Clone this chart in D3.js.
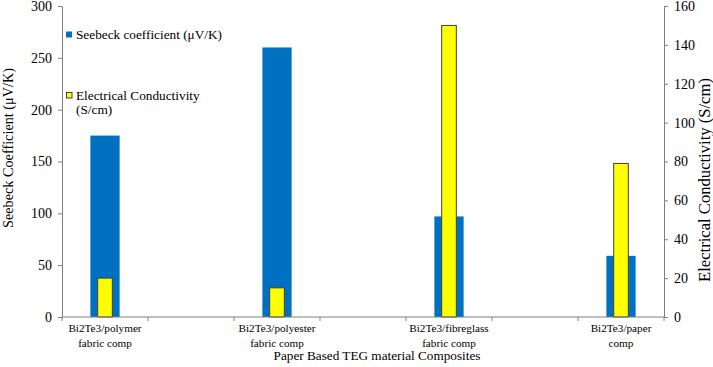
<!DOCTYPE html>
<html><head><meta charset="utf-8">
<script src="https://cdn.jsdelivr.net/npm/d3@7"></script>
<style>body{margin:0;background:#fff}svg{display:block}</style>
</head><body><svg id="c" width="713" height="367" font-family="'Liberation Serif', 'Times New Roman', serif"></svg>
<script>
const categories = ["Bi2Te3/polymer\nfabric comp", "", "Bi2Te3/polyester\nfabric comp", "", "Bi2Te3/fibreglass\nfabric comp", "", "Bi2Te3/paper\ncomp"];
const seebeck = [175, null, 260, null, 97, null, 59];
const conductivity = [20, null, 15, null, 150, null, 79];
const leftTicks = [0, 50, 100, 150, 200, 250, 300];
const rightTicks = [0, 20, 40, 60, 80, 100, 120, 140, 160];

const FF = "'Liberation Serif', 'Times New Roman', serif";
const svg = d3.select("#c");
const L = 62, R = 664, T = 6, B = 317;
const x = d3.scaleBand().domain(d3.range(categories.length)).range([L, R]).padding(0);
const yL = d3.scaleLinear().domain([0, 300]).range([B, T]);
const yR = d3.scaleLinear().domain([0, 160]).range([B, T]);
const blueW = x.bandwidth() * 0.34, yelW = x.bandwidth() * 0.17;

svg.append("g").selectAll("rect").data(seebeck.map((v,i)=>({v,i})).filter(d=>d.v!=null)).join("rect")
  .attr("x", d => x(d.i) + x.bandwidth()/2 - blueW/2).attr("width", blueW)
  .attr("y", d => yL(d.v)).attr("height", d => B - yL(d.v))
  .attr("fill", "#0070C0");
svg.append("g").selectAll("rect").data(conductivity.map((v,i)=>({v,i})).filter(d=>d.v!=null)).join("rect")
  .attr("x", d => x(d.i) + x.bandwidth()/2 - yelW/2).attr("width", yelW)
  .attr("y", d => yR(d.v)).attr("height", d => B - yR(d.v))
  .attr("fill", "#FFFF00").attr("stroke", "#404040").attr("stroke-width", 1);

function styleAxis(g){
  g.attr("font-family", FF).attr("font-size", 14);
  g.selectAll("path,line").attr("stroke","#7f7f7f");
  g.selectAll("text").attr("fill","#000");
}
svg.append("g").attr("transform", `translate(${L},0)`)
  .call(d3.axisLeft(yL).tickValues(leftTicks).tickSize(4).tickSizeOuter(0).tickPadding(6))
  .call(styleAxis);
svg.append("g").attr("transform", `translate(${R},0)`)
  .call(d3.axisRight(yR).tickValues(rightTicks).tickSize(4).tickSizeOuter(0).tickPadding(6))
  .call(styleAxis);

const xb = svg.append("g").attr("transform", `translate(0,${B})`).attr("font-family", FF);
xb.append("line").attr("x1", L).attr("x2", R).attr("stroke", "#7f7f7f");
const bounds = d3.range(categories.length + 1).map(i => i < categories.length ? x(i) : R);
xb.selectAll("line.t").data(bounds).join("line").attr("class","t")
  .attr("x1", d=>d).attr("x2", d=>d).attr("y1", 0).attr("y2", 4).attr("stroke", "#7f7f7f");
xb.selectAll("text.c").data(categories.map((c,i)=>({c,i})).filter(d=>d.c)).join("text").attr("class","c")
  .attr("text-anchor","middle").attr("font-size", 11.2)
  .each(function(d){
    const lines = d.c.split("\n");
    d3.select(this).selectAll("tspan").data(lines).join("tspan")
      .attr("x", x(d.i) + x.bandwidth()/2).attr("y", (l,k)=> 15 + k*15).text(l=>l);
  });

function fit(sel, target){
  const w = sel.node().getComputedTextLength();
  const fs = +sel.attr("font-size");
  sel.attr("font-size", (fs * target / w).toFixed(2));
  return sel;
}
fit(svg.append("text").attr("x", 377).attr("y", 360).attr("text-anchor","middle").attr("font-size",14).text("Paper Based TEG material Composites"), 207);
fit(svg.append("text").attr("transform","translate(13,148) rotate(-90)").attr("text-anchor","middle").attr("font-size",14).text("Seebeck Coefficient (μV/K)"), 160);
fit(svg.append("text").attr("transform","translate(710,180) rotate(-90)").attr("text-anchor","middle").attr("font-size",14).text("Electrical Conductivity (S/cm)"), 204);

const lg = svg.append("g");
lg.append("rect").attr("x",66).attr("y",31.5).attr("width",6).attr("height",6).attr("fill","#0070C0");
fit(lg.append("text").attr("x",76).attr("y",38.5).attr("font-size",14).text("Seebeck coefficient (μV/K)"), 146);
lg.append("rect").attr("x",66.5).attr("y",92.5).attr("width",5.5).attr("height",5.5).attr("fill","#FFFF00").attr("stroke","#404040").attr("stroke-width",1);
lg.append("text").attr("x",76).attr("y",100).attr("font-size",13.3).text("Electrical Conductivity");
lg.append("text").attr("x",76).attr("y",114).attr("font-size",13.3).text("(S/cm)");
</script></body></html>
